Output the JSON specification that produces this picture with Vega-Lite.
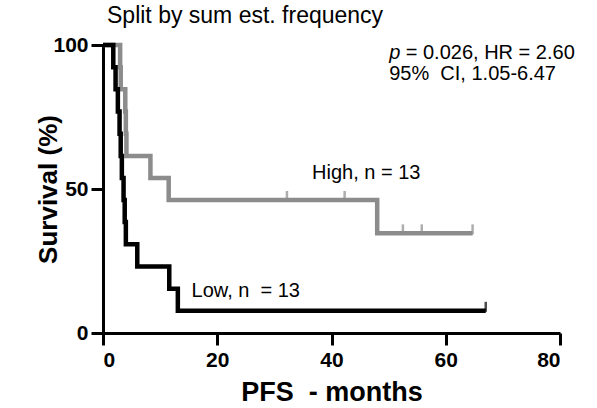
{
  "$schema": "https://vega.github.io/schema/vega-lite/v6.json",
  "width": 457,
  "height": 288,
  "autosize": {"type": "none"},
  "padding": {"left": 103, "top": 45, "right": 37, "bottom": 75},
  "background": "white",
  "title": {"text": "Split by sum est. frequency", "anchor": "start", "frame": "group", "font": "Liberation Sans", "fontSize": 23, "fontWeight": "normal", "color": "black", "offset": 6, "dx": 4},
  "config": {
    "view": {"stroke": null},
    "axis": {
      "grid": false,
      "domainColor": "black", "domainWidth": 3,
      "tickColor": "black", "tickWidth": 3, "tickSize": 12,
      "labelFont": "Liberation Sans", "labelFontWeight": "bold", "labelFontSize": 21, "labelColor": "black",
      "titleFont": "Liberation Sans", "titleFontWeight": "bold", "titleFontSize": 26, "titleColor": "black"
    }
  },
  "datasets": {
    "curves": [
      {"group": "High", "time": 0, "surv": 100},
      {"group": "High", "time": 3.0, "surv": 92.3},
      {"group": "High", "time": 3.1, "surv": 84.6},
      {"group": "High", "time": 3.9, "surv": 76.9},
      {"group": "High", "time": 4.0, "surv": 69.2},
      {"group": "High", "time": 4.1, "surv": 61.5},
      {"group": "High", "time": 8.3, "surv": 53.8},
      {"group": "High", "time": 11.5, "surv": 46.2},
      {"group": "High", "time": 48.0, "surv": 34.6},
      {"group": "High", "time": 64.7, "surv": 34.6},
      {"group": "Low", "time": 0, "surv": 100},
      {"group": "Low", "time": 1.8, "surv": 92.3},
      {"group": "Low", "time": 2.2, "surv": 84.6},
      {"group": "Low", "time": 2.6, "surv": 76.9},
      {"group": "Low", "time": 2.9, "surv": 69.2},
      {"group": "Low", "time": 3.1, "surv": 61.5},
      {"group": "Low", "time": 3.3, "surv": 53.8},
      {"group": "Low", "time": 3.6, "surv": 46.2},
      {"group": "Low", "time": 3.8, "surv": 38.5},
      {"group": "Low", "time": 4.0, "surv": 30.8},
      {"group": "Low", "time": 6.0, "surv": 23.1},
      {"group": "Low", "time": 11.6, "surv": 15.4},
      {"group": "Low", "time": 13.1, "surv": 7.7},
      {"group": "Low", "time": 67.0, "surv": 7.7}
    ],
    "censor": [
      {"group": "High", "time": 32.2, "surv": 46.2},
      {"group": "High", "time": 42.3, "surv": 46.2},
      {"group": "High", "time": 52.5, "surv": 34.6},
      {"group": "High", "time": 55.8, "surv": 34.6},
      {"group": "High", "time": 64.7, "surv": 34.6},
      {"group": "Low", "time": 67.0, "surv": 7.7}
    ]
  },
  "layer": [
    {
      "data": {"name": "curves"},
      "mark": {"type": "line", "interpolate": "step-after", "strokeWidth": 4.5},
      "encoding": {
        "x": {"field": "time", "type": "quantitative", "scale": {"domain": [0, 80], "nice": false},
              "axis": {"values": [0, 20, 40, 60, 80], "title": "PFS\u00a0 - months", "titleFontSize": 27, "labelPadding": 4, "titlePadding": 9}},
        "y": {"field": "surv", "type": "quantitative", "scale": {"domain": [0, 100], "nice": false},
              "axis": {"values": [0, 50, 100], "title": "Survival (%)", "labelPadding": 3, "titlePadding": -9}},
        "color": {"field": "group", "type": "nominal", "scale": {"domain": ["High", "Low"], "range": ["#8c8c8c", "#000000"]}, "legend": null}
      }
    },
    {
      "data": {"name": "censor"},
      "mark": {"type": "tick", "orient": "vertical", "size": 10, "thickness": 2.5, "yOffset": -4},
      "encoding": {
        "x": {"field": "time", "type": "quantitative"},
        "y": {"field": "surv", "type": "quantitative"},
        "color": {"field": "group", "type": "nominal", "legend": null}
      }
    },
    {
      "data": {"values": [{}]},
      "mark": {"type": "text", "text": "p", "font": "Liberation Sans", "fontStyle": "italic", "fontSize": 20, "align": "left", "baseline": "alphabetic", "color": "black"},
      "encoding": {"x": {"datum": 50.1}, "y": {"datum": 95.1}}
    },
    {
      "data": {"values": [{}]},
      "mark": {"type": "text", "text": "= 0.026, HR = 2.60", "font": "Liberation Sans", "fontSize": 20, "align": "left", "baseline": "alphabetic", "color": "black"},
      "encoding": {"x": {"datum": 53.0}, "y": {"datum": 95.1}}
    },
    {
      "data": {"values": [{}]},
      "mark": {"type": "text", "text": "95%\u00a0 CI, 1.05-6.47", "font": "Liberation Sans", "fontSize": 20, "align": "left", "baseline": "alphabetic", "color": "black"},
      "encoding": {"x": {"datum": 50.1}, "y": {"datum": 87.8}}
    },
    {
      "data": {"values": [{}]},
      "mark": {"type": "text", "text": "High, n = 13", "font": "Liberation Sans", "fontSize": 20, "align": "left", "baseline": "alphabetic", "color": "black"},
      "encoding": {"x": {"datum": 36.6}, "y": {"datum": 53.5}}
    },
    {
      "data": {"values": [{}]},
      "mark": {"type": "text", "text": "Low, n\u00a0 = 13", "font": "Liberation Sans", "fontSize": 20, "align": "left", "baseline": "alphabetic", "color": "black"},
      "encoding": {"x": {"datum": 15.5}, "y": {"datum": 12.6}}
    }
  ]
}
